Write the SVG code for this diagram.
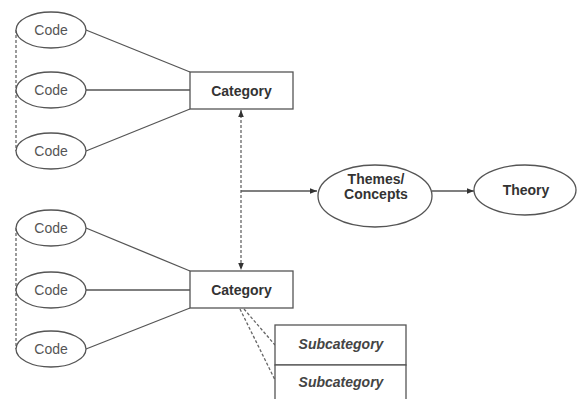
<svg xmlns="http://www.w3.org/2000/svg" width="578" height="399" viewBox="0 0 578 399">
<style>
.shape{fill:#fff;stroke:#555;stroke-width:1.3}
.line{fill:none;stroke:#555;stroke-width:1.3}
.dash{fill:none;stroke:#666;stroke-width:1.3;stroke-dasharray:3,2}
.code{font-family:"Liberation Sans",Arial,sans-serif;font-size:14px;fill:#555;text-anchor:middle;dominant-baseline:central}
.bold{font-family:"Liberation Sans",Arial,sans-serif;font-size:14px;font-weight:bold;fill:#333;text-anchor:middle;dominant-baseline:central}
.sub{font-family:"Liberation Sans",Arial,sans-serif;font-size:14px;font-weight:bold;font-style:italic;fill:#444;text-anchor:middle;dominant-baseline:central}
</style>
<defs>
<marker id="arr" viewBox="0 0 10 10" refX="10" refY="5" markerWidth="7" markerHeight="7" orient="auto-start-reverse" markerUnits="userSpaceOnUse">
<path d="M0,1 L10,5 L0,9 z" fill="#333"/>
</marker>
</defs>
<rect width="578" height="399" fill="#fff"/>
<g id="connectors">
<line class="dash" x1="16" y1="30" x2="16" y2="151"/>
<line class="dash" x1="16" y1="228" x2="16" y2="349"/>
<line class="line" x1="86" y1="30" x2="190" y2="72"/>
<line class="line" x1="86" y1="90" x2="190" y2="90"/>
<line class="line" x1="86" y1="151" x2="190" y2="109"/>
<line class="line" x1="86" y1="228" x2="190" y2="271"/>
<line class="line" x1="86" y1="290" x2="190" y2="290"/>
<line class="line" x1="86" y1="349" x2="190" y2="308"/>
<line class="dash" x1="241" y1="110" x2="241" y2="270" marker-start="url(#arr)" marker-end="url(#arr)"/>
<line class="line" x1="241" y1="191" x2="317" y2="191" marker-end="url(#arr)"/>
<line class="line" x1="432" y1="191" x2="474" y2="191" marker-end="url(#arr)"/>
<line class="dash" x1="244" y1="309" x2="275" y2="345"/>
<line class="dash" x1="240" y1="309" x2="275" y2="380"/>
</g>
<g id="code1"><ellipse class="shape" cx="51" cy="30" rx="35" ry="18"/><text class="code" x="51" y="30">Code</text></g>
<g id="code2"><ellipse class="shape" cx="51" cy="90" rx="35" ry="18"/><text class="code" x="51" y="90">Code</text></g>
<g id="code3"><ellipse class="shape" cx="51" cy="151" rx="35" ry="18"/><text class="code" x="51" y="151">Code</text></g>
<g id="category1"><rect class="shape" x="190" y="72" width="103" height="37"/><text class="bold" x="241.5" y="90.5">Category</text></g>
<g id="code4"><ellipse class="shape" cx="51" cy="228" rx="35" ry="18"/><text class="code" x="51" y="228">Code</text></g>
<g id="code5"><ellipse class="shape" cx="51" cy="290" rx="35" ry="18"/><text class="code" x="51" y="290">Code</text></g>
<g id="code6"><ellipse class="shape" cx="51" cy="349" rx="35" ry="18"/><text class="code" x="51" y="349">Code</text></g>
<g id="category2"><rect class="shape" x="190" y="271" width="103" height="37"/><text class="bold" x="241.5" y="289.5">Category</text></g>
<g id="themes"><ellipse class="shape" cx="375" cy="196" rx="57" ry="31"/><text class="bold" x="376" y="179">Themes/</text><text class="bold" x="376" y="194">Concepts</text></g>
<g id="theory"><ellipse class="shape" cx="525" cy="190" rx="51" ry="25"/><text class="bold" x="526" y="190">Theory</text></g>
<g id="subcategory1"><rect class="shape" x="275" y="325" width="131" height="40"/><text class="sub" x="341" y="344">Subcategory</text></g>
<g id="subcategory2"><rect class="shape" x="275" y="365" width="131" height="40"/><text class="sub" x="341" y="382">Subcategory</text></g>
</svg>
